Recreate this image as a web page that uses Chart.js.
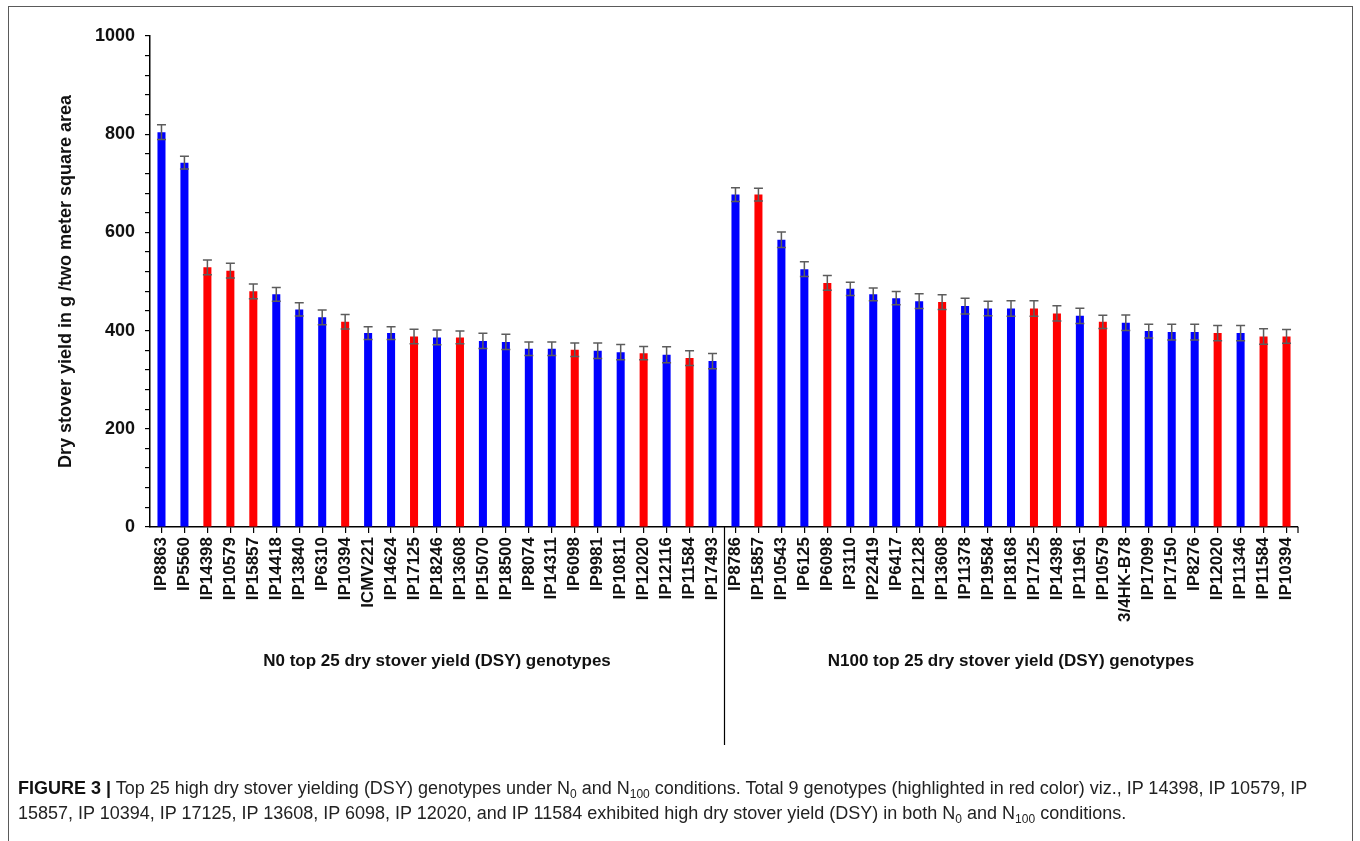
<!DOCTYPE html>
<html>
<head>
<meta charset="utf-8">
<script src="https://cdn.jsdelivr.net/npm/chart.js@4.4.1/dist/chart.umd.min.js"></script>
<style>
  html, body { margin: 0; padding: 0; background: #fff; }
  body { width: 1360px; height: 841px; position: relative; overflow: hidden; font-family: "Liberation Sans", Arial, sans-serif; }
  #frame { position: absolute; left: 8px; top: 6px; width: 1345px; height: 860px; border: 1.5px solid #5a5a5a; box-sizing: border-box; }
  #wrap { position: absolute; left: 0; top: 0; width: 1360px; height: 841px; }
  #caption { position: absolute; left: 18px; top: 776px; width: 1335px; font-size: 18px; line-height: 25px; color: #222; white-space: nowrap; }
  #caption b { font-weight: bold; color: #111; }
  #caption sub { font-size: 12px; vertical-align: -4px; line-height: 0; }
</style>
</head>
<body>
<div id="frame"></div>
<div id="wrap"><canvas id="c" width="1360" height="841"></canvas></div>
<div id="caption"><b>FIGURE 3 |</b> Top 25 high dry stover yielding (DSY) genotypes under N<sub>0</sub> and N<sub>100</sub> conditions. Total 9 genotypes (highlighted in red color) viz., IP 14398, IP 10579, IP<br>15857, IP 10394, IP 17125, IP 13608, IP 6098, IP 12020, and IP 11584 exhibited high dry stover yield (DSY) in both N<sub>0</sub> and N<sub>100</sub> conditions.</div>
<script>
// ---- data ----
const n0Genotypes = ["IP8863","IP5560","IP14398","IP10579","IP15857","IP14418","IP13840","IP6310","IP10394","ICMV221","IP14624","IP17125","IP18246","IP13608","IP15070","IP18500","IP8074","IP14311","IP6098","IP9981","IP10811","IP12020","IP12116","IP11584","IP17493"];
const n0Yield = [804,742,529,522,480,474,443,427,418,395,395,388,386,386,379,377,363,363,361,359,356,354,351,344,338];
const n0Error = [15,13,15,15,15,14,13.5,15,14.6,13,13,15,15,13,15.6,15.6,13.6,13.6,13.6,15.6,15.6,13.6,16.3,15,15.6];

const n100Genotypes = ["IP8786","IP15857","IP10543","IP6125","IP6098","IP3110","IP22419","IP6417","IP12128","IP13608","IP11378","IP19584","IP18168","IP17125","IP14398","IP11961","IP10579","3/4HK-B78","IP17099","IP17150","IP8276","IP12020","IP11346","IP11584","IP10394"];
const n100Yield = [677,677,585,525,497,485,474,466,460,458,450,445,445,445,435,430,418,416,399,397,397,395,395,388,388];
const n100Error = [14,13,15.6,15,15,13.5,13,13.5,15,15,16,15,16,16,15.6,15.6,13.5,15.6,14,16,16,15.6,15.6,16,14];

const commonGenotypes = ["IP14398","IP10579","IP15857","IP10394","IP17125","IP13608","IP6098","IP12020","IP11584"];

const groupTitles = ["N0 top 25 dry stover yield (DSY) genotypes", "N100 top 25 dry stover yield (DSY) genotypes"];
const yTitle = "Dry stover yield in g /two meter square area";
const yTickLabels = [0, 200, 400, 600, 800, 1000];

// ---- build ----
const labels = n0Genotypes.concat(n100Genotypes);
const values = n0Yield.concat(n100Yield);
const errors = n0Error.concat(n100Error);
const colors = labels.map(g => commonGenotypes.includes(g) ? "#ff0000" : "#0000ff");

const FONT = '"Liberation Sans", Arial, sans-serif';
const AREA = { left: 150, right: 1298, top: 36, bottom: 527 };

const errorBars = {
  id: "errorBars",
  afterDatasetsDraw(chart) {
    const ctx = chart.ctx, y = chart.scales.y;
    const meta = chart.getDatasetMeta(0);
    ctx.save();
    ctx.strokeStyle = "#5c5c5c";
    ctx.lineWidth = 1.5;
    meta.data.forEach((bar, i) => {
      const x = bar.x;
      const yt = y.getPixelForValue(values[i] + errors[i]);
      const yb = y.getPixelForValue(values[i] - errors[i]);
      ctx.beginPath();
      ctx.moveTo(x, yt); ctx.lineTo(x, yb);
      ctx.moveTo(x - 4.5, yt); ctx.lineTo(x + 4.5, yt);
      ctx.moveTo(x - 4.5, yb); ctx.lineTo(x + 4.5, yb);
      ctx.stroke();
    });
    ctx.restore();
  }
};

const groups = {
  id: "groups",
  afterDraw(chart) {
    const ctx = chart.ctx, xs = chart.scales.x;
    const n = n0Genotypes.length;
    const c1 = (xs.getPixelForValue(0) + xs.getPixelForValue(n - 1)) / 2;
    const c2 = (xs.getPixelForValue(n) + xs.getPixelForValue(labels.length - 1)) / 2;
    const sep = (xs.getPixelForValue(n - 1) + xs.getPixelForValue(n)) / 2;
    ctx.save();
    ctx.fillStyle = "#111";
    ctx.font = "bold 17px " + FONT;
    ctx.textAlign = "center";
    ctx.textBaseline = "middle";
    ctx.fillText(groupTitles[0], c1, 661);
    ctx.fillText(groupTitles[1], c2, 661);
    ctx.strokeStyle = "#000";
    ctx.lineWidth = 1.2;
    ctx.beginPath();
    ctx.moveTo(Math.round(sep) + 0.5, AREA.bottom);
    ctx.lineTo(Math.round(sep) + 0.5, 745);
    ctx.moveTo(xs.right, AREA.bottom); ctx.lineTo(xs.right, AREA.bottom + 6);
    ctx.stroke();
    ctx.restore();
  }
};

new Chart(document.getElementById("c"), {
  type: "bar",
  data: {
    labels: labels,
    datasets: [{
      data: values,
      backgroundColor: colors,
      borderWidth: 0,
      categoryPercentage: 1,
      barPercentage: 0.35
    }]
  },
  options: {
    responsive: false,
    animation: false,
    devicePixelRatio: 1,
    layout: { padding: { left: 0, top: AREA.top, right: 1360 - AREA.right, bottom: 0 } },
    plugins: { legend: { display: false }, tooltip: { enabled: false } },
    scales: {
      x: {
        offset: true,
        grid: { offset: false, drawOnChartArea: false, drawTicks: true, tickLength: 6, tickColor: "#000", lineWidth: 1.2 },
        border: { color: "#000", width: 1.5 },
        ticks: {
          autoSkip: false, minRotation: 90, maxRotation: 90, padding: 4,
          color: "#111", font: { family: FONT, size: 17, weight: "bold" }
        },
        afterFit(s) { s.height = 841 - AREA.bottom; }
      },
      y: {
        min: 0, max: 1000,
        grid: { drawOnChartArea: false, drawTicks: true, tickLength: 5, tickColor: "#000", lineWidth: 1.2 },
        border: { color: "#000", width: 1.5 },
        ticks: {
          stepSize: 40, autoSkip: false, padding: 10, color: "#111",
          font: { family: FONT, size: 18, weight: "bold" },
          callback: v => yTickLabels.includes(Math.round(v)) ? String(Math.round(v)) : ""
        },
        title: {
          display: true, text: yTitle, color: "#111",
          font: { family: FONT, size: 18, weight: "bold" },
          padding: { top: 55, bottom: 0 }
        },
        afterFit(s) { s.width = AREA.left; }
      }
    }
  },
  plugins: [errorBars, groups]
});
</script>
</body>
</html>
